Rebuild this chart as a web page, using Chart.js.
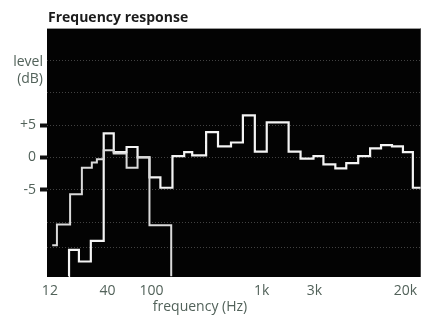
<!DOCTYPE html>
<html>
<head>
<meta charset="utf-8">
<title>Frequency response</title>
<script src="https://cdn.jsdelivr.net/npm/chart.js@4/dist/chart.umd.min.js"></script>
<style>
  html, body { margin: 0; padding: 0; background: #fff; }
  canvas { display: block; }
</style>
</head>
<body>
<canvas id="responseChart" width="423" height="316"></canvas>
<script>
// main trace: step start frequencies (Hz) and levels (dB)
const mainFreq  = [17.8, 17.9, 22, 28.2, 36.9, 45.5, 59.5, 74.8, 95.9, 120.5, 155, 198, 234, 313, 401, 526, 674, 865, 1109, 1751, 2246, 2941, 3619, 4642, 5832, 7480, 9594, 12050, 15140, 19030, 23410, 27600];
const mainLevel = [-18.4, -14.3, -16.1, -12.9, 3.7, 0.8, 1.6, 0, -3.1, -4.7, 0.2, 0.8, 0.3, 3.9, 1.7, 2.3, 6.5, 0.9, 5.4, 0.9, -0.2, 0.2, -1.1, -1.7, -0.9, 0.2, 1.4, 1.9, 1.7, 0.8, -4.7, -4.7];

// second trace (low end only)
const lowFreq  = [12.6, 13.9, 18.3, 23.4, 28.8, 32, 36.9, 45.5, 59.5, 74.8, 95.9, 151];
const lowLevel = [-13.6, -10.4, -5.7, -1.6, -0.8, -0.3, 1.1, 0.6, -1.6, 0, -10.5, -18.4];

// axes
const xTickValues = [12, 40, 100, 1000, 3000, 20000];
const xTickLabels = ['12', '40', '100', '1k', '3k', '20k'];
const yGridValues = [-14, -10, -5, 0, 5, 10, 15];
const yTickLabels = { '5': '+5', '0': '0', '-5': '-5' };

const labelColor = '#52625a';
const fontFamily = "'Open Sans', 'DejaVu Sans', sans-serif";

function toPoints(freqs, levels) {
    return freqs.map((f, i) => ({ x: f, y: levels[i] }));
}

// black plot area + free text labels
const plotDecor = {
    id: 'plotDecor',
    beforeDraw(chart) {
        const { ctx, chartArea: a } = chart;
        ctx.save();
        ctx.fillStyle = '#030303';
        ctx.fillRect(a.left, a.top, a.right - a.left, a.bottom - a.top);
        ctx.fillStyle = '#9a9a9a';
        ctx.fillRect(a.left, a.top, a.right - a.left, 1);
        ctx.restore();
    },
    afterDraw(chart) {
        const ctx = chart.ctx;
        ctx.save();
        ctx.textBaseline = 'alphabetic';
        ctx.fillStyle = '#1c1c1c';
        ctx.font = 'bold 14px ' + fontFamily;
        ctx.fillText('Frequency response', 48, 22);

        ctx.fillStyle = labelColor;
        ctx.font = '14px ' + fontFamily;
        ctx.textAlign = 'right';
        ctx.fillText('level', 43, 66);
        ctx.fillText('(dB)', 43, 83);

        ctx.textAlign = 'center';
        ctx.fillText('frequency (Hz)', 200, 311);
        ctx.restore();
    }
};

document.addEventListener('DOMContentLoaded', function() {
    const ctx = document.getElementById('responseChart');

    new Chart(ctx, {
        type: 'line',
        data: {
            datasets: [{
                label: 'low',
                data: toPoints(lowFreq, lowLevel),
                borderColor: '#dadada',
                borderWidth: 2,
                stepped: true,
                pointRadius: 0,
                fill: false
            }, {
                label: 'main',
                data: toPoints(mainFreq, mainLevel),
                borderColor: '#f4f4f4',
                borderWidth: 2.2,
                stepped: true,
                pointRadius: 0,
                fill: false
            }]
        },
        options: {
            responsive: false,
            animation: false,
            layout: { padding: { top: 28, right: 0, bottom: 0, left: 0 } },
            plugins: {
                legend: { display: false },
                tooltip: { enabled: false },
                title: { display: false }
            },
            scales: {
                x: {
                    type: 'logarithmic',
                    min: 11.3,
                    max: 27600,
                    afterBuildTicks: function(scale) {
                        scale.ticks = xTickValues.map(v => ({ value: v }));
                    },
                    afterFit: function(scale) { scale.height = 39; },
                    grid: { display: false, drawTicks: false },
                    border: { display: false },
                    ticks: {
                        autoSkip: false,
                        maxRotation: 0,
                        padding: 6,
                        color: labelColor,
                        font: { family: fontFamily, size: 14 },
                        callback: function(value) {
                            const i = xTickValues.indexOf(value);
                            return i >= 0 ? xTickLabels[i] : '';
                        }
                    }
                },
                y: {
                    min: -18.5,
                    max: 20,
                    afterBuildTicks: function(scale) {
                        scale.ticks = yGridValues.map(v => ({ value: v }));
                    },
                    afterFit: function(scale) { scale.width = 47; },
                    border: { display: false, dash: [1, 2] },
                    grid: {
                        color: 'rgba(130, 130, 130, 0.5)',
                        lineWidth: 1,
                        tickLength: 7,
                        tickWidth: 4,
                        tickColor: function(c) {
                            return c.tick && yTickLabels[String(c.tick.value)] ? '#111111' : 'rgba(0,0,0,0)';
                        }
                    },
                    ticks: {
                        padding: 4,
                        color: labelColor,
                        font: { family: fontFamily, size: 14 },
                        callback: function(value) {
                            return yTickLabels[String(value)] || '';
                        }
                    }
                }
            }
        },
        plugins: [plotDecor]
    });
});
</script>
</body>
</html>
